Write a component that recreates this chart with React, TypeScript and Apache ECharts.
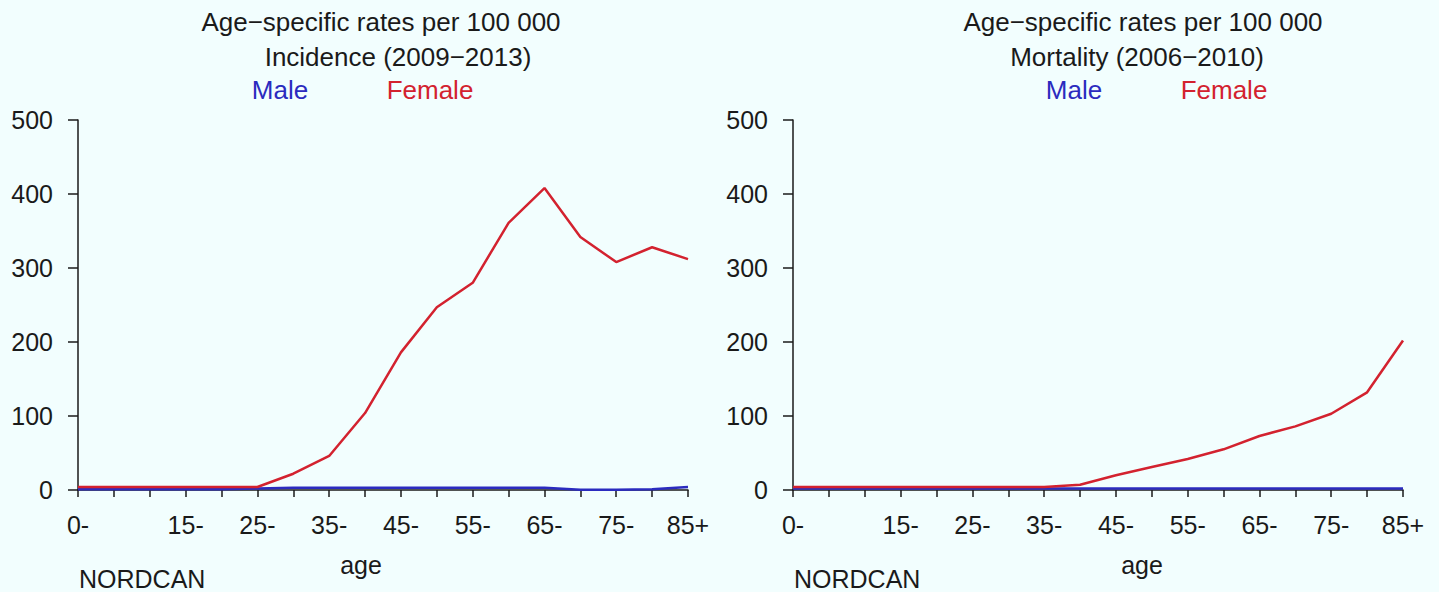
import { useEffect, useRef } from "react"
import * as echarts from "echarts"

const ages = ["0-", "5-", "10-", "15-", "20-", "25-", "30-", "35-", "40-", "45-", "50-", "55-", "60-", "65-", "70-", "75-", "80-", "85+"]
const shownAgeLabels = ["0-", "15-", "25-", "35-", "45-", "55-", "65-", "75-", "85+"]

const incidenceMale = [1, 1, 1, 1, 1, 2, 3, 3, 3, 3, 3, 3, 3, 3, 0.5, 0.5, 1, 4]
const incidenceFemale = [4, 4, 4, 4, 4, 4, 22, 46, 104, 186, 247, 280, 361, 408, 342, 308, 328, 312]
const mortalityMale = [2, 2, 2, 2, 2, 2, 2, 2, 2, 2, 2, 2, 2, 2, 2, 2, 2, 2]
const mortalityFemale = [4, 4, 4, 4, 4, 4, 4, 4, 7, 20, 31, 42, 55, 73, 86, 103, 132, 202]

const yTicks = [0, 100, 200, 300, 400, 500]

const MALE = "#2b2bbf"
const FEMALE = "#d3222f"
const INK = "#1a1a1a"
const BG = "#f2fefe"
const FONT = "'Liberation Sans', Arial, sans-serif"

function txt(text: string, x: number, y: number, size: number, color = INK, align = "center") {
  return {
    type: "text",
    x,
    y,
    style: {
      text,
      fill: color,
      font: `${size}px ${FONT}`,
      align,
      verticalAlign: "middle",
      textAlign: align,
      textVerticalAlign: "middle",
    },
  }
}

export default function App() {
  const ref = useRef<HTMLDivElement>(null)

  useEffect(() => {
    document.body.style.margin = "0"
    document.body.style.background = BG
    if (!ref.current) return
    const chart = echarts.init(ref.current, null, { renderer: "svg" })

    const xAxis = (gridIndex: number) => ({
      type: "category",
      gridIndex,
      data: ages,
      boundaryGap: false,
      axisLine: { show: true, lineStyle: { color: INK, width: 1.5 } },
      axisTick: { show: true, interval: 0, length: 7, lineStyle: { color: INK, width: 1.5 } },
      axisLabel: {
        interval: (i: number) => shownAgeLabels.includes(ages[i]),
        color: INK,
        fontSize: 25,
        fontFamily: FONT,
        margin: 22,
      },
      splitLine: { show: false },
    })

    const yAxis = (gridIndex: number) => ({
      type: "value",
      gridIndex,
      min: yTicks[0],
      max: yTicks[yTicks.length - 1],
      interval: 100,
      axisLine: { show: true, lineStyle: { color: INK, width: 1.5 } },
      axisTick: { show: true, length: 10, lineStyle: { color: INK, width: 1.5 } },
      axisLabel: { color: INK, fontSize: 25, fontFamily: FONT, margin: 25 },
      splitLine: { show: false },
    })

    const line = (name: string, data: number[], color: string, idx: number) => ({
      name,
      type: "line",
      xAxisIndex: idx,
      yAxisIndex: idx,
      data,
      symbol: "none",
      lineStyle: { color, width: 2.5 },
      itemStyle: { color },
    })

    chart.setOption({
      animation: false,
      backgroundColor: BG,
      grid: [
        { left: 78, top: 120, width: 610, height: 370 },
        { left: 793, top: 120, width: 610, height: 370 },
      ],
      xAxis: [xAxis(0), xAxis(1)],
      yAxis: [yAxis(0), yAxis(1)],
      series: [
        line("Male", incidenceMale, MALE, 0),
        line("Female", incidenceFemale, FEMALE, 0),
        line("Male", mortalityMale, MALE, 1),
        line("Female", mortalityFemale, FEMALE, 1),
      ],
      graphic: [
        txt("Age\u2212specific rates per 100 000", 381, 22, 26),
        txt("Incidence (2009\u22122013)", 398, 57, 26),
        txt("Male", 280, 90, 26, MALE),
        txt("Female", 430, 90, 26, FEMALE),
        txt("age", 361, 565, 25),
        txt("NORDCAN", 79, 579, 25, INK, "left"),
        txt("Age\u2212specific rates per 100 000", 1143, 22, 26),
        txt("Mortality (2006\u22122010)", 1137, 57, 26),
        txt("Male", 1074, 90, 26, MALE),
        txt("Female", 1224, 90, 26, FEMALE),
        txt("age", 1142, 565, 25),
        txt("NORDCAN", 794, 579, 25, INK, "left"),
      ],
    })

    return () => chart.dispose()
  }, [])

  return <div ref={ref} style={{ width: 1439, height: 592, background: BG }} />
}
